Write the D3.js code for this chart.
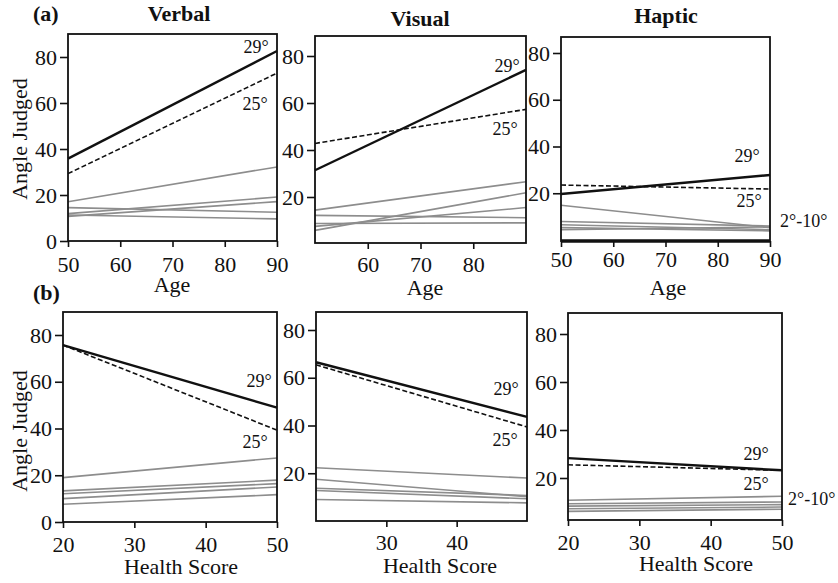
<!DOCTYPE html>
<html>
<head>
<meta charset="utf-8">
<script src="https://cdn.jsdelivr.net/npm/d3@7"></script>
<style>
  body { margin: 0; background: #fff; }
  text { font-family: "Liberation Serif", "Times New Roman", serif; fill: #111; }
</style>
</head>
<body>
<svg id="chart" width="838" height="583"></svg>
<script>
// regression lines: one judged angle value at each end of the predictor range
let seriesNames = ['29°', '25°', 'g1', 'g2', 'g3', 'g4', 'g5']
let ageDomain = [50, 90]
let healthDomain = [20, 50]
let ageTicks = [50, 60, 70, 80, 90]
let ageTicksMid = [60, 70, 80]
let healthTicks = [20, 30, 40, 50]
let healthTicksMid = [30, 40]
let angleTicks = [0, 20, 40, 60, 80]
let angleTicksNoZero = [20, 40, 60, 80]

let verbalAgeStart = [35.8, 29.3, 17.1, 14.5, 11.9, 10.7, 11.3]
let verbalAgeEnd = [82.6, 73.0, 32.2, 12.5, 19.1, 17.1, 9.6]
let visualAgeStart = [31.4, 42.8, 14.4, 5.8, 12.2, 7.5, 8.7]
let visualAgeEnd = [74.1, 57.3, 26.5, 21.8, 11.2, 15.5, 9.0]
let hapticAgeStart = [19.7, 23.5, 14.9, 7.9, 6.5, 5.3, 4.4]
let hapticAgeEnd = [27.8, 21.8, 5.3, 6.0, 4.4, 3.9, 5.6]

let verbalHealthStart = [75.7, 75.7, 19.0, 13.3, 12.1, 10.0, 7.6]
let verbalHealthEnd = [48.9, 39.3, 27.4, 17.9, 16.4, 15.0, 11.7]
let visualHealthStart = [66.5, 65.4, 22.3, 17.5, 13.7, 12.8, 9.0]
let visualHealthEnd = [43.6, 39.4, 18.0, 10.2, 10.7, 9.3, 7.6]
let hapticHealthStart = [28.3, 25.5, 10.7, 9.3, 8.3, 7.2, 6.1]
let hapticHealthEnd = [23.2, 23.2, 12.4, 10.0, 8.9, 7.9, 7.0]

let svg = d3.select('#chart')
svg.append('rect').attr('width', 838).attr('height', 583).attr('fill', '#fff')

// panel layout (pixels)
let panels = [
  { x: [68, 277], y0: 241, y80: 57, top: 34, bottom: 241, xDomain: ageDomain, xTicks: ageTicks, yTicks: angleTicks,
    start: verbalAgeStart, end: verbalAgeEnd, xLabBase: 272,
    title: 'Verbal', titleX: 179, titleY: 21, xTitle: 'Age', xTitleX: 172, xTitleY: 292,
    l29: [256, 53], l25: [255, 110] },
  { x: [315, 526], y0: 244, y80: 56, top: 36, bottom: 243, xDomain: ageDomain, xTicks: ageTicksMid, yTicks: angleTicksNoZero,
    start: visualAgeStart, end: visualAgeEnd, xLabBase: 272,
    title: 'Visual', titleX: 420, titleY: 26, xTitle: 'Age', xTitleX: 425, xTitleY: 295,
    l29: [507, 72], l25: [505, 135] },
  { x: [561, 770], y0: 240, y80: 53, top: 37, bottom: 241, xDomain: ageDomain, xTicks: ageTicks, yTicks: angleTicksNoZero,
    start: hapticAgeStart, end: hapticAgeEnd, xLabBase: 267,
    title: 'Haptic', titleX: 666, titleY: 23, xTitle: 'Age', xTitleX: 668, xTitleY: 295,
    l29: [747, 162], l25: [749, 207], lRange: [780, 227], heavyBase: true },
  { x: [63, 277], y0: 522, y80: 335, top: 312, bottom: 522, xDomain: healthDomain, xTicks: healthTicks, yTicks: angleTicks,
    start: verbalHealthStart, end: verbalHealthEnd, xLabBase: 552,
    xTitle: 'Health Score', xTitleX: 181, xTitleY: 574,
    l29: [259, 387], l25: [255, 448] },
  { x: [316, 527], y0: 521, y80: 330, top: 312, bottom: 521, xDomain: healthDomain, xTicks: healthTicksMid, yTicks: angleTicksNoZero,
    start: visualHealthStart, end: visualHealthEnd, xLabBase: 550,
    xTitle: 'Health Score', xTitleX: 440, xTitleY: 573,
    l29: [506, 395], l25: [505, 446] },
  { x: [568, 782], y0: 526, y80: 334, top: 313, bottom: 520, xDomain: healthDomain, xTicks: healthTicks, yTicks: angleTicksNoZero,
    start: hapticHealthStart, end: hapticHealthEnd, xLabBase: 550,
    xTitle: 'Health Score', xTitleX: 696, xTitleY: 571,
    l29: [756, 460], l25: [756, 490], lRange: [788, 505] }
]

function lineStyle (i) {
  if (i === 0) return { stroke: '#111', width: 2.4, dash: null }
  if (i === 1) return { stroke: '#111', width: 1.6, dash: '5,2.5' }
  return { stroke: '#8d8d8d', width: 1.6, dash: null }
}

panels.forEach(p => {
  let g = svg.append('g')
  let x = d3.scaleLinear().domain(p.xDomain).range(p.x)
  let y = d3.scaleLinear().domain([0, 80]).range([p.y0, p.y80])

  let line = d3.line().x(d => x(d[0])).y(d => y(d[1]))

  let series = seriesNames.map((name, i) => ({
    name: name,
    i: i,
    pts: [[p.xDomain[0], p.start[i]], [p.xDomain[1], p.end[i]]]
  }))

  // grey first so the black ones sit on top
  g.selectAll('.reg')
    .data(series.slice().reverse())
    .enter()
    .append('path')
    .attr('class', 'reg')
    .attr('d', d => line(d.pts))
    .attr('fill', 'none')
    .attr('stroke', d => lineStyle(d.i).stroke)
    .attr('stroke-width', d => lineStyle(d.i).width)
    .attr('stroke-dasharray', d => lineStyle(d.i).dash)

  // frame
  g.append('rect')
    .attr('x', p.x[0]).attr('y', p.top)
    .attr('width', p.x[1] - p.x[0]).attr('height', p.bottom - p.top)
    .attr('fill', 'none').attr('stroke', '#111').attr('stroke-width', 1.8)

  if (p.heavyBase) {
    g.append('line')
      .attr('x1', p.x[0]).attr('x2', p.x[1])
      .attr('y1', p.bottom).attr('y2', p.bottom)
      .attr('stroke', '#111').attr('stroke-width', 3.5)
  }

  let yAxis = g.append('g')
    .attr('transform', `translate(${p.x[0]},0)`)
    .call(d3.axisLeft(y).tickValues(p.yTicks).tickSize(8).tickPadding(3))
  yAxis.select('.domain').remove()

  let xAxis = g.append('g')
    .attr('transform', `translate(0,${p.bottom})`)
    .call(d3.axisBottom(x).tickValues(p.xTicks).tickSize(6))
  xAxis.select('.domain').remove()
  xAxis.selectAll('text').attr('y', p.xLabBase - p.bottom).attr('dy', null)

  g.selectAll('.tick line').attr('stroke', '#111').attr('stroke-width', 1.6)
  g.selectAll('.tick text')
    .attr('font-size', 22)
    .attr('font-family', '"Liberation Serif", "Times New Roman", serif')
    .attr('fill', '#111')

  if (p.title) {
    g.append('text').attr('x', p.titleX).attr('y', p.titleY)
      .attr('text-anchor', 'middle').attr('font-size', 22).attr('font-weight', 'bold')
      .text(p.title)
  }

  g.append('text').attr('x', p.xTitleX).attr('y', p.xTitleY)
    .attr('text-anchor', 'middle').attr('font-size', 22)
    .text(p.xTitle)

  g.append('text').attr('x', p.l29[0]).attr('y', p.l29[1])
    .attr('text-anchor', 'middle').attr('font-size', 18).text(seriesNames[0])
  g.append('text').attr('x', p.l25[0]).attr('y', p.l25[1])
    .attr('text-anchor', 'middle').attr('font-size', 18).text(seriesNames[1])
  if (p.lRange) {
    g.append('text').attr('x', p.lRange[0]).attr('y', p.lRange[1])
      .attr('font-size', 18).text('2°-10°')
  }
})

// row labels and y titles
svg.append('text').attr('x', 33).attr('y', 21).attr('font-size', 22).attr('font-weight', 'bold').text('(a)')
svg.append('text').attr('x', 33).attr('y', 300).attr('font-size', 22).attr('font-weight', 'bold').text('(b)')

;[139, 431].forEach(cy => {
  svg.append('text')
    .attr('transform', `translate(27,${cy}) rotate(-90)`)
    .attr('text-anchor', 'middle').attr('font-size', 22)
    .text('Angle Judged')
})
</script>
</body>
</html>
